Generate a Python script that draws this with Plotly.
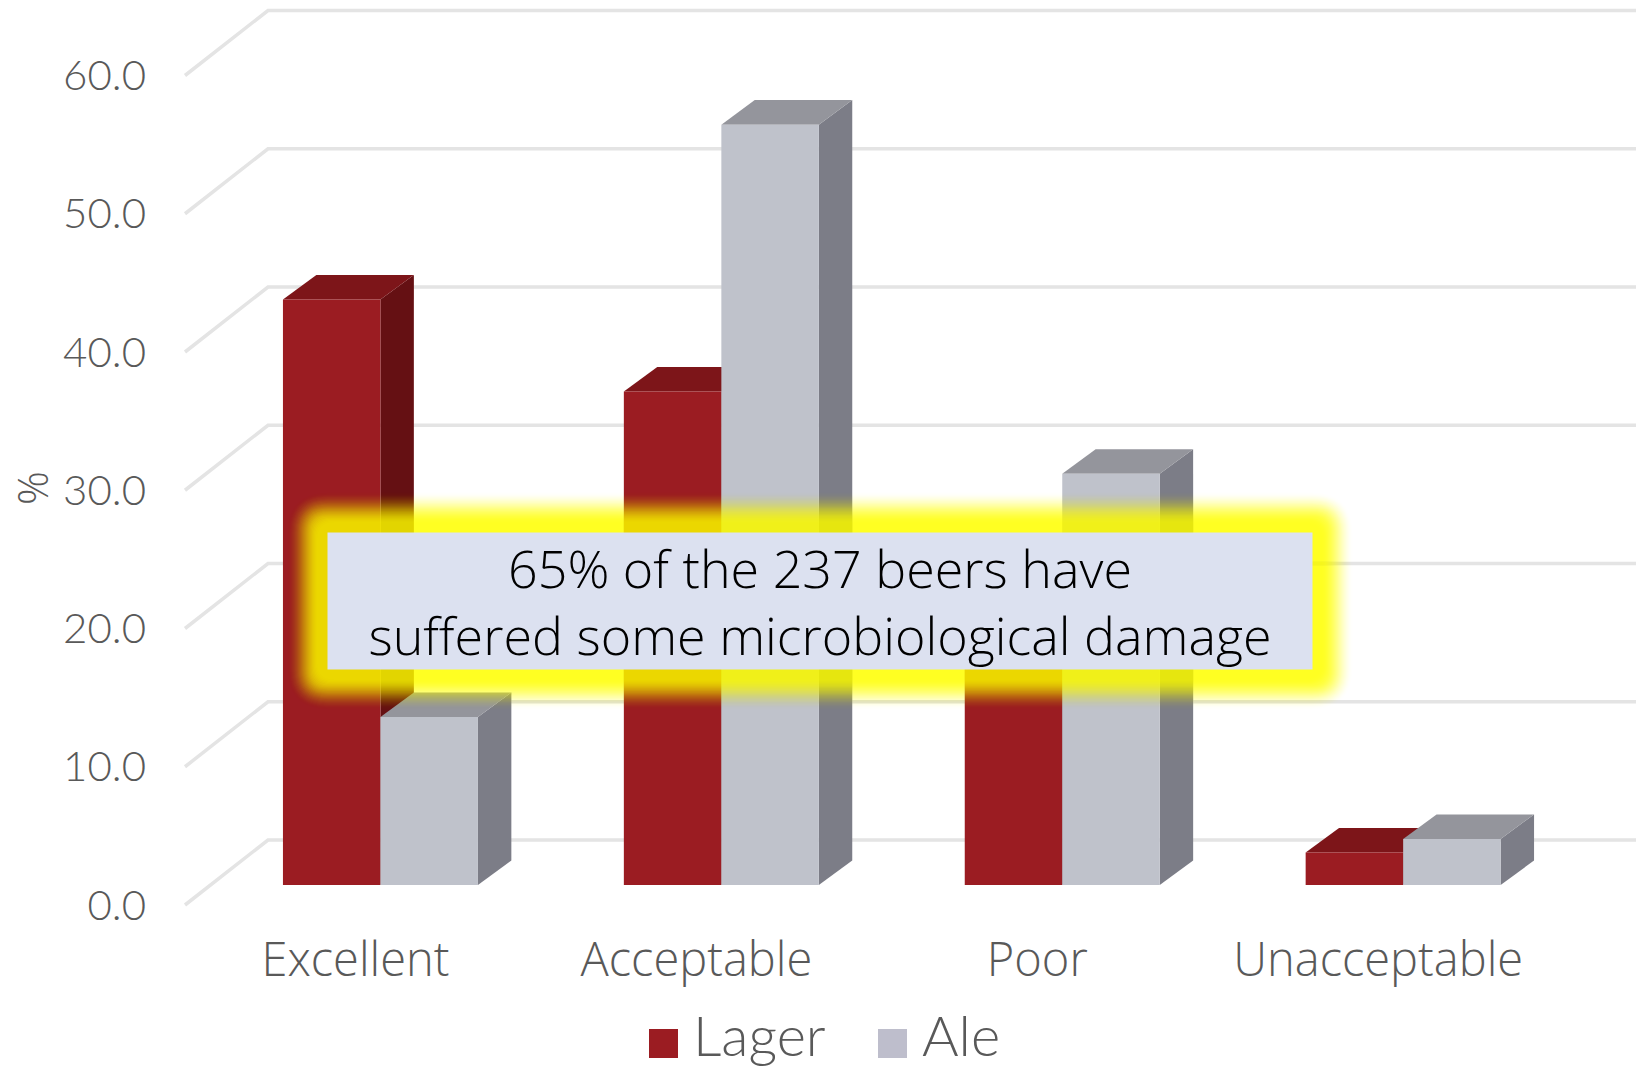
import plotly.graph_objects as go

# ---- data ----
categories = ["Excellent", "Acceptable", "Poor", "Unacceptable"]
lager = [42.35, 35.7, 19.7, 2.35]
ale = [12.15, 55.0, 29.75, 3.33]
y_ticks = [0, 10, 20, 30, 40, 50, 60]
series_names = ["Lager", "Ale"]
note_lines = ["65% of the 237 beers have", "suffered some microbiological damage"]

# ---- styling ----
W, H = 1636, 1068
FONT = "Open Sans"
NUM_FONT = "Lato"
TXT = "#595959"
GRID = "#E4E4E4"
LAGER = dict(front="#9B1C22", top="#7D1519", side="#651013", key="#9B1C22")
ALE = dict(front="#BFC2CB", top="#94959C", side="#7C7D87", key="#BEBECC")

PX_X = 340.9      # pixels per category
PX_Y = 13.825     # pixels per percent
L, R, T, B = 175, 1636, 0, 915
Y0_PX = 905
x0 = -0.5
x_range = [x0 - (185 - L) / PX_X, x0 + (R - 185) / PX_X]
y_range = [(Y0_PX - B) / PX_Y, (Y0_PX - T) / PX_Y]

# depth offsets in data units
WALL_DX, WALL_DY = 83 / PX_X, 65 / PX_Y
BASE_DX, BASE_DY = 25.0 / PX_X, 20 / PX_Y
BAR_DX, BAR_DY = 33.4 / PX_X, 24.5 / PX_Y
BAR_W = 97.5 / PX_X


def px(x):
    return (x - L) / (R - L)


def py(y):
    return (B - y) / (B - T)


def poly(pts, color):
    path = "M" + " L".join(f"{a:.5f},{b:.5f}" for a, b in pts) + " Z"
    return dict(type="path", path=path, xref="x", yref="y", layer="below",
                fillcolor=color, line=dict(width=0))


shapes = []
# back wall and floor grid
for v in y_ticks:
    xb, yb = x0 + WALL_DX, v + WALL_DY
    path = f"M{x0},{v} L{xb:.5f},{yb:.5f} L{x_range[1]:.5f},{yb:.5f}"
    shapes.append(dict(type="path", path=path, xref="x", yref="y", layer="below",
                       line=dict(color=GRID, width=3.5)))

# depth faces of each bar, group by group
for i in range(len(categories)):
    for k, (vals, col) in enumerate(((lager, LAGER), (ale, ALE))):
        xl = i + BASE_DX - BAR_W + k * BAR_W
        xr = xl + BAR_W
        y0 = BASE_DY
        y1 = BASE_DY + vals[i]
        shapes.append(poly([(xr, y0), (xr + BAR_DX, y0 + BAR_DY),
                            (xr + BAR_DX, y1 + BAR_DY), (xr, y1)], col["side"]))
        shapes.append(poly([(xl, y1), (xl + BAR_DX, y1 + BAR_DY),
                            (xr + BAR_DX, y1 + BAR_DY), (xr, y1)], col["top"]))

# soft yellow glow behind the note box
BOX = (328, 533, 1312, 669)


def smooth(t):
    return t * t * (3 - 2 * t)


def rrect(e, r):
    a, b, c, d = BOX[0] - e, BOX[1] - e, BOX[2] + e, BOX[3] + e
    P = lambda x, y: f"{px(x):.5f},{py(y):.5f}"
    return (f"M{P(a + r, b)} L{P(c - r, b)} Q{P(c, b)} {P(c, b + r)} L{P(c, d - r)} "
            f"Q{P(c, d)} {P(c - r, d)} L{P(a + r, d)} Q{P(a, d)} {P(a, d - r)} "
            f"L{P(a, b + r)} Q{P(a, b)} {P(a + r, b)} Z")


N = 30
GLOW_OUT, GLOW_IN, GLOW_A = 41.0, 10.0, 0.85
prev = 0.0
for j in range(N):
    t = (j + 1) / N
    e = GLOW_OUT + (GLOW_IN - GLOW_OUT) * j / (N - 1)
    target = GLOW_A * smooth(t)
    a = 1 - (1 - target) / (1 - prev)
    prev = target
    shapes.append(dict(type="path", path=rrect(e, max(e, 18)), xref="paper", yref="paper",
                       layer="above", fillcolor=f"rgba(255,255,0,{a:.4f})", line=dict(width=0)))

annotations = [
    dict(text="<br>".join(note_lines), x=px((BOX[0] + BOX[2]) / 2), y=py((BOX[1] + BOX[3]) / 2),
         xref="paper", yref="paper", xanchor="center", yanchor="middle",
         width=BOX[2] - BOX[0], height=BOX[3] - BOX[1], borderpad=0, align="center", valign="middle",
         bgcolor="#DCE1F0", showarrow=False,
         font=dict(family=FONT, size=52, color="#000000", weight=300)),
    dict(text="%", x=px(31), y=py(488), xref="paper", yref="paper", textangle=-90,
         xanchor="center", yanchor="middle", showarrow=False,
         font=dict(family=FONT, size=42, color=TXT, weight=300)),
]

# legend keys
LEG = [(649, 692, LAGER["key"]), (878, 921, ALE["key"])]
for name, (kx, tx, color) in zip(series_names, LEG):
    shapes.append(dict(type="rect", xref="paper", yref="paper", x0=px(kx), x1=px(kx + 29),
                       y0=py(1029), y1=py(1058), fillcolor=color, line=dict(width=0), layer="above"))
    annotations.append(dict(text=name, x=px(tx), y=py(1034), xref="paper", yref="paper",
                            xanchor="left", yanchor="middle", showarrow=False, borderpad=0,
                            font=dict(family=NUM_FONT, size=56, color=TXT, weight=300)))

fig = go.Figure()
for k, (name, vals, col) in enumerate(zip(series_names, (lager, ale), (LAGER, ALE))):
    fig.add_bar(x=list(range(len(categories))), y=vals, base=BASE_DY, name=name,
                width=BAR_W, offset=BASE_DX - BAR_W + k * BAR_W,
                marker=dict(color=col["front"], line=dict(width=0)), showlegend=False)

fig.update_layout(
    width=W, height=H, autosize=False, barmode="overlay",
    margin=dict(l=L, r=W - R, t=T, b=H - B, pad=0),
    paper_bgcolor="white", plot_bgcolor="rgba(0,0,0,0)",
    shapes=shapes, annotations=annotations, showlegend=False,
    font=dict(family=FONT, color=TXT),
    xaxis=dict(range=x_range, tickmode="array", tickvals=list(range(len(categories))),
               ticktext=categories, showgrid=False, zeroline=False, showline=False,
               ticks="", ticklabelstandoff=13,
               tickfont=dict(family=FONT, size=47, color=TXT, weight=300)),
    yaxis=dict(range=y_range, tickmode="array", tickvals=y_ticks,
               ticktext=[f"{v:.1f}" for v in y_ticks], showgrid=False, zeroline=False,
               showline=False, ticks="", ticklabelstandoff=28,
               tickfont=dict(family=NUM_FONT, size=42, color=TXT, weight=300)),
)

fig.write_html("out.html", post_script="document.body.style.margin='0';document.body.style.overflow='hidden';",
               config=dict(displayModeBar=False))
